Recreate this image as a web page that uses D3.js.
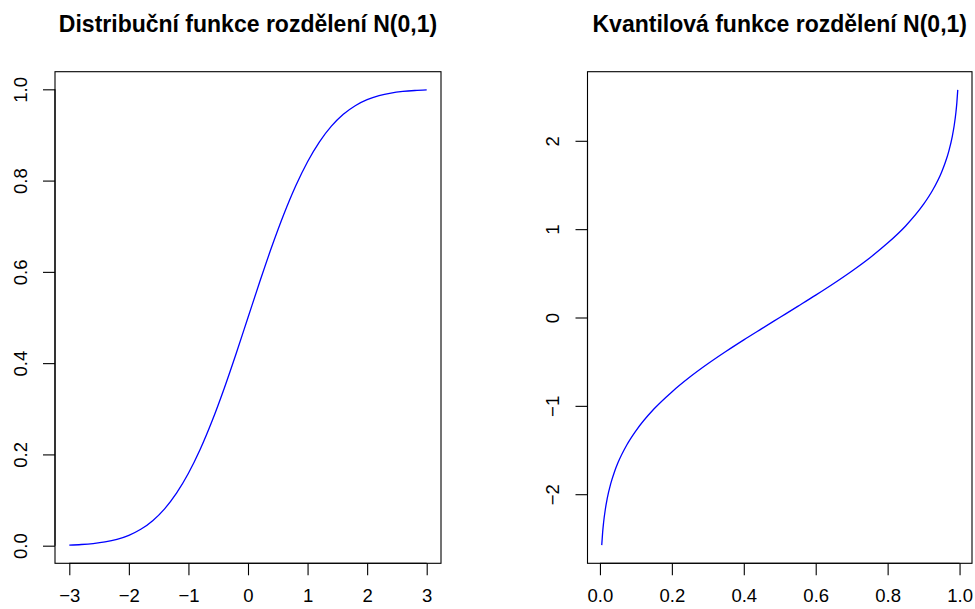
<!DOCTYPE html>
<html>
<head>
<meta charset="utf-8">
<script src="https://cdn.jsdelivr.net/npm/d3@7"></script>
<style>
  html, body { margin: 0; padding: 0; background: #fff; }
  svg { display: block; font-family: "Liberation Sans", Arial, Helvetica, sans-serif; }
</style>
</head>
<body>
<svg id="chart" width="975" height="609"></svg>
<script>
// Distribution function of N(0,1): x values and Φ(x)
const cdfX = [-3.0, -2.8, -2.6, -2.4, -2.2, -2.0, -1.8, -1.6, -1.4, -1.2, -1.0, -0.8, -0.6, -0.4, -0.2,
  0.0, 0.2, 0.4, 0.6, 0.8, 1.0, 1.2, 1.4, 1.6, 1.8, 2.0, 2.2, 2.4, 2.6, 2.8, 3.0];
const cdfY = [0.0013, 0.0026, 0.0047, 0.0082, 0.0139, 0.0228, 0.0359, 0.0548, 0.0808, 0.1151, 0.1587,
  0.2119, 0.2743, 0.3446, 0.4207, 0.5, 0.5793, 0.6554, 0.7257, 0.7881, 0.8413, 0.8849, 0.9192,
  0.9452, 0.9641, 0.9772, 0.9861, 0.9918, 0.9953, 0.9974, 0.9987];

// Quantile function of N(0,1): probabilities and quantiles
const qP = [0.005, 0.0075, 0.01, 0.015, 0.02, 0.03, 0.04, 0.05, 0.075, 0.1, 0.15, 0.2, 0.25, 0.3, 0.35,
  0.4, 0.45, 0.5, 0.55, 0.6, 0.65, 0.7, 0.75, 0.8, 0.85, 0.9, 0.925, 0.95, 0.96, 0.97, 0.98, 0.985,
  0.99, 0.9925, 0.995];
const qX = [-2.576, -2.432, -2.326, -2.170, -2.054, -1.881, -1.751, -1.645, -1.440, -1.282, -1.036,
  -0.842, -0.674, -0.524, -0.385, -0.253, -0.126, 0.0, 0.126, 0.253, 0.385, 0.524, 0.674, 0.842,
  1.036, 1.282, 1.440, 1.645, 1.751, 1.881, 2.054, 2.170, 2.326, 2.432, 2.576];

// Tick labels
const leftXTicks = [-3, -2, -1, 0, 1, 2, 3];
const leftYTicks = [0.0, 0.2, 0.4, 0.6, 0.8, 1.0];
const rightXTicks = [0.0, 0.2, 0.4, 0.6, 0.8, 1.0];
const rightYTicks = [-2, -1, 0, 1, 2];

const titles = ["Distribuční funkce rozdělení N(0,1)", "Kvantilová funkce rozdělení N(0,1)"];

const svg = d3.select("#chart");

// Domain extended by 4% on each side, like R's default axis style
function padded(vals) {
  const [a, b] = d3.extent(vals);
  const d = (b - a) * 0.04;
  return [a - d, b + d];
}

function fmt(v, dec) { return dec ? d3.format(".1f")(v) : d3.format("d")(v).replace("-", "\u2212"); }

function panel(opts) {
  const { left, right, top, bottom, xs, ys, xTicks, yTicks, xDec, yDec, title } = opts;
  const x = d3.scaleLinear().domain(padded(xs)).range([left, right]);
  const y = d3.scaleLinear().domain(padded(ys)).range([bottom, top]);
  const g = svg.append("g");

  // plot frame
  g.append("rect")
    .attr("x", left).attr("y", top)
    .attr("width", right - left).attr("height", bottom - top)
    .attr("fill", "none").attr("stroke", "#000").attr("stroke-width", 1.1);

  // bottom axis
  const xa = d3.axisBottom(x).tickValues(xTicks).tickSize(12).tickPadding(14)
    .tickFormat(v => fmt(v, xDec));
  const gx = g.append("g").attr("transform", `translate(0,${bottom})`).call(xa);
  gx.select(".domain").attr("d", `M${x(xTicks[0])},0H${x(xTicks[xTicks.length - 1])}`);

  // left axis, labels rotated parallel to the axis
  const ya = d3.axisLeft(y).tickValues(yTicks).tickSize(12).tickPadding(0)
    .tickFormat(v => fmt(v, yDec));
  const gy = g.append("g").attr("transform", `translate(${left},0)`).call(ya);
  gy.select(".domain").attr("d", `M0,${y(yTicks[0])}V${y(yTicks[yTicks.length - 1])}`);
  gy.selectAll(".tick text")
    .attr("x", 0).attr("dy", 0)
    .attr("transform", "translate(-35,0) rotate(-90)")
    .attr("text-anchor", "middle")
    .attr("dominant-baseline", "central");

  [gx, gy].forEach(a => {
    a.selectAll(".domain, .tick line").attr("stroke", "#000").attr("stroke-width", 1.1);
    a.selectAll(".tick text").attr("fill", "#000").attr("font-size", 18.5)
      .attr("font-family", "Liberation Sans, Arial, sans-serif");
  });

  // curve
  const line = d3.line().x((d, i) => x(xs[i])).y((d, i) => y(ys[i])).curve(d3.curveMonotoneX);
  g.append("path").datum(xs).attr("d", line)
    .attr("fill", "none").attr("stroke", "#0000ff").attr("stroke-width", 1.3);

  // title
  g.append("text")
    .attr("x", (left + right) / 2).attr("y", 32)
    .attr("text-anchor", "middle")
    .attr("font-weight", "bold").attr("font-size", 23)
    .text(title);
}

panel({ left: 55, right: 441, top: 71.7, bottom: 563.3, xs: cdfX, ys: cdfY,
  xTicks: leftXTicks, yTicks: leftYTicks, xDec: false, yDec: true, title: titles[0] });
panel({ left: 587.5, right: 972, top: 71.7, bottom: 563.3, xs: qP, ys: qX,
  xTicks: rightXTicks, yTicks: rightYTicks, xDec: true, yDec: false, title: titles[1] });
</script>
</body>
</html>
